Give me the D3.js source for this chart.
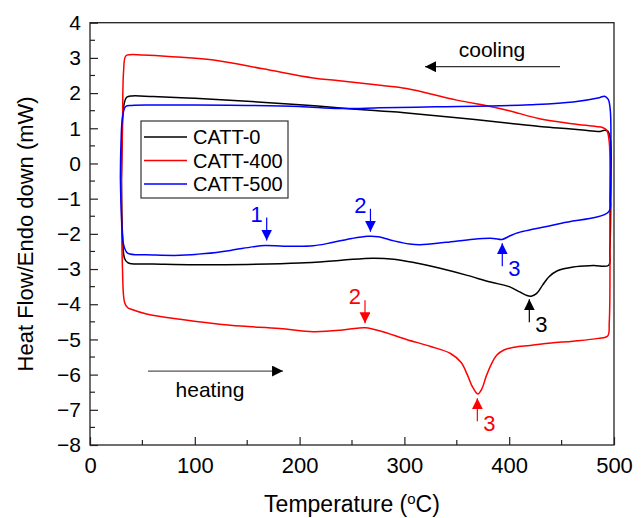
<!DOCTYPE html>
<html>
<head>
<meta charset="utf-8">
<script src="https://cdn.jsdelivr.net/npm/d3@7"></script>
<style>
  body { margin: 0; background: #fff; }
  text { font-family: "Liberation Sans", Arial, sans-serif; }
</style>
</head>
<body>
<div id="container"></div>
<script>
/* DATA: DSC loops, heating (bottom) then cooling (top), temperature in oC, heat flow in mW */

const names = ["CATT-0", "CATT-400", "CATT-500"];
const colors = ["#000000", "#ff0000", "#0000ff"];

// CATT-0
const heatT0 = [30, 31, 33, 36, 40, 60, 100, 150, 200, 240, 270, 290, 310, 334, 360, 382, 400, 410, 416, 421, 426, 432, 438, 446, 461, 480, 495];
const heatY0 = [-0.5, -2.0, -2.7, -2.82, -2.85, -2.86, -2.88, -2.87, -2.83, -2.75, -2.69, -2.72, -2.82, -2.98, -3.18, -3.37, -3.5, -3.65, -3.74, -3.77, -3.7, -3.45, -3.22, -3.05, -2.94, -2.9, -2.89];
const coolT0 = [496, 497, 496.5, 494, 490, 487, 470, 450, 429, 400, 350, 300, 277, 250, 200, 150, 100, 60, 40, 35, 32, 30.5, 30];
const coolY0 = [-2.5, -0.5, 0.7, 0.92, 0.94, 0.91, 0.95, 1.0, 1.05, 1.14, 1.3, 1.44, 1.49, 1.55, 1.67, 1.77, 1.85, 1.9, 1.92, 1.88, 1.6, 0.5, -0.5];

// CATT-400
const heatT1 = [30, 31, 33, 36, 40, 54, 86, 134, 181, 213, 239, 255, 263, 277, 302, 325, 344, 354, 360, 365, 370, 374, 378, 383, 388, 395, 405, 420, 440, 461, 485, 494];
const heatY1 = [-0.5, -3.0, -3.95, -4.1, -4.15, -4.28, -4.43, -4.6, -4.69, -4.78, -4.74, -4.68, -4.67, -4.76, -5.0, -5.2, -5.4, -5.65, -6.0, -6.35, -6.55, -6.4, -6.05, -5.7, -5.45, -5.3, -5.22, -5.17, -5.1, -5.05, -4.97, -4.9];
const coolT1 = [495.5, 496, 495.5, 493, 489, 483, 460, 429, 400, 382, 350, 302, 277, 238, 213, 165, 118, 75, 50, 38, 34, 32, 31, 30];
const coolY1 = [-4.5, -1.0, 0.6, 0.95, 1.02, 1.05, 1.13, 1.27, 1.5, 1.62, 1.8, 2.13, 2.22, 2.35, 2.43, 2.69, 2.94, 3.04, 3.08, 3.09, 3.05, 2.6, 1.0, -0.5];

// CATT-500
const heatT2 = [29, 30, 32, 35, 38, 60, 86, 110, 134, 155, 167, 185, 213, 232, 250, 265, 275, 290, 305, 315, 340, 366, 385, 393, 400, 407, 450, 495];
const heatY2 = [-0.4, -1.5, -2.3, -2.52, -2.57, -2.6, -2.61, -2.56, -2.47, -2.37, -2.33, -2.35, -2.34, -2.24, -2.13, -2.07, -2.08, -2.2, -2.29, -2.31, -2.24, -2.15, -2.13, -2.16, -2.07, -1.98, -1.7, -1.37];
const coolT2 = [496.5, 497, 496.5, 494.5, 491, 486, 461, 420, 382, 330, 277, 238, 200, 150, 100, 60, 40, 34, 31, 29.5, 29];
const coolY2 = [-1.0, 0.3, 1.5, 1.82, 1.91, 1.87, 1.75, 1.67, 1.63, 1.61, 1.58, 1.56, 1.62, 1.65, 1.66, 1.66, 1.65, 1.62, 1.3, 0.5, -0.4];

// peak markers: temperature, heat flow at arrow tip, direction, label, colour index
const markT = [168.6, 267.6, 262.4, 393.4, 419.2, 369.6];
const markY = [-2.19, -1.94, -4.54, -2.27, -3.86, -6.67];
const markDir = ["down", "down", "down", "up", "up", "up"];
const markLabel = ["1", "2", "2", "3", "3", "3"];
const markColor = [2, 2, 1, 2, 0, 1];

// axes
const xTicks = [0, 100, 200, 300, 400, 500];
const yTicks = [-8, -7, -6, -5, -4, -3, -2, -1, 0, 1, 2, 3, 4];

/* LAYOUT */
const width = 644, height = 518;
const margin = { top: 22.7, right: 30, bottom: 73, left: 90 };

const svg = d3.select("#container").append("svg")
  .attr("width", width)
  .attr("height", height);

const xScale = d3.scaleLinear().domain([0, 500]).range([margin.left, width - margin.right]);
const yScale = d3.scaleLinear().domain([-8, 4]).range([height - margin.bottom, margin.top]);

const defs = svg.append("defs");
["#000000", "#ff0000", "#0000ff"].forEach((c, i) => {
  defs.append("marker")
    .attr("id", "head" + i)
    .attr("viewBox", "0 0 10 10")
    .attr("refX", 10).attr("refY", 5)
    .attr("markerUnits", "userSpaceOnUse")
    .attr("markerWidth", 11).attr("markerHeight", 11)
    .attr("orient", "auto")
    .append("path")
    .attr("d", "M0,0 L10,5 L0,10 Z")
    .attr("fill", c);
});

/* AXES (ticks inside) */
const x0 = margin.left, x1 = width - margin.right;
const y0 = height - margin.bottom, y1 = margin.top;

const xAxis = d3.axisBottom(xScale).tickValues(xTicks).tickSizeInner(-8).tickSizeOuter(0).tickPadding(12);
const gx = svg.append("g").attr("transform", `translate(0,${y0})`).call(xAxis);
gx.selectAll("text").style("font-size", "22px").attr("fill", "#000");

const yAxis = d3.axisLeft(yScale).tickValues(yTicks).tickSizeInner(-8).tickSizeOuter(0).tickPadding(9);
const gy = svg.append("g").attr("transform", `translate(${x0},0)`).call(yAxis);
gy.selectAll("text").style("font-size", "21px").attr("fill", "#000");

[gx, gy].forEach(g => {
  g.select(".domain").remove();
  g.selectAll("line").attr("stroke", "#222").attr("stroke-width", 1.2);
});

// minor ticks
svg.append("g").selectAll("line")
  .data(d3.range(50, 500, 100))
  .join("line")
  .attr("x1", d => xScale(d)).attr("x2", d => xScale(d))
  .attr("y1", y0).attr("y2", y0 - 5)
  .attr("stroke", "#222").attr("stroke-width", 1.2);
svg.append("g").selectAll("line")
  .data(d3.range(-7.5, 4, 1))
  .join("line")
  .attr("x1", x0).attr("x2", x0 + 5)
  .attr("y1", d => yScale(d)).attr("y2", d => yScale(d))
  .attr("stroke", "#222").attr("stroke-width", 1.2);

// frame
svg.append("rect")
  .attr("x", x0).attr("y", y1)
  .attr("width", x1 - x0).attr("height", y0 - y1)
  .attr("fill", "none").attr("stroke", "#222").attr("stroke-width", 1.3);

// axis titles
const xt = svg.append("text")
  .attr("x", (x0 + x1) / 2).attr("y", 512)
  .attr("text-anchor", "middle")
  .style("font-size", "23px");
xt.append("tspan").text("Temperature (");
xt.append("tspan").text("o").attr("dy", -8).style("font-size", "15px");
xt.append("tspan").text("C)").attr("dy", 8);

svg.append("text")
  .attr("transform", `translate(33,${(y0 + y1) / 2}) rotate(-90)`)
  .attr("text-anchor", "middle")
  .style("font-size", "22px")
  .text("Heat Flow/Endo down (mW)");

/* CURVES */
const series = [
  { heatT: heatT0, heatY: heatY0, coolT: coolT0, coolY: coolY0 },
  { heatT: heatT1, heatY: heatY1, coolT: coolT1, coolY: coolY1 },
  { heatT: heatT2, heatY: heatY2, coolT: coolT2, coolY: coolY2 }
].map(s => {
  const pts = s.heatT.map((t, i) => [t, s.heatY[i]]);
  s.coolT.forEach((t, i) => pts.push([t, s.coolY[i]]));
  return pts;
});

const line = d3.line()
  .x(d => xScale(d[0]))
  .y(d => yScale(d[1]))
  .curve(d3.curveCatmullRom.alpha(0.5));

svg.append("g").selectAll("path")
  .data(series)
  .join("path")
  .attr("d", line)
  .attr("fill", "none")
  .attr("stroke", (d, i) => colors[i])
  .attr("stroke-width", 1.5)
  .attr("stroke-linejoin", "round");

/* PEAK ARROWS */
const marks = markT.map((t, i) => ({ t, y: markY[i], dir: markDir[i], label: markLabel[i], c: markColor[i] }));
const gm = svg.append("g");
marks.forEach(m => {
  const px = xScale(m.t), py = yScale(m.y);
  const s = m.dir === "down" ? -1 : 1;
  gm.append("line")
    .attr("x1", px).attr("x2", px)
    .attr("y1", py + s * 23).attr("y2", py)
    .attr("stroke", colors[m.c]).attr("stroke-width", 1.2)
    .attr("marker-end", `url(#head${m.c})`);
  gm.append("text")
    .attr("x", m.dir === "down" ? px - 10 : px + 12)
    .attr("y", m.dir === "down" ? py - 19 : py + 33)
    .attr("text-anchor", "middle")
    .attr("fill", colors[m.c])
    .style("font-size", "22px")
    .text(m.label);
});

/* HEATING / COOLING ARROWS */
svg.append("line")
  .attr("x1", xScale(448.5)).attr("x2", xScale(319.7))
  .attr("y1", yScale(2.75)).attr("y2", yScale(2.75))
  .attr("stroke", "#333").attr("stroke-width", 1.2)
  .attr("marker-end", "url(#head0)");
svg.append("text")
  .attr("x", xScale(383.6)).attr("y", yScale(3.03))
  .attr("text-anchor", "middle")
  .style("font-size", "21px")
  .text("cooling");

svg.append("line")
  .attr("x1", xScale(55.3)).attr("x2", xScale(184.2))
  .attr("y1", yScale(-5.9)).attr("y2", yScale(-5.9))
  .attr("stroke", "#555").attr("stroke-width", 1.2)
  .attr("marker-end", "url(#head0)");
svg.append("text")
  .attr("x", xScale(114.5)).attr("y", yScale(-6.63))
  .attr("text-anchor", "middle")
  .style("font-size", "21px")
  .text("heating");

/* LEGEND */
const lg = svg.append("g").attr("transform", "translate(141,121)");
lg.append("rect")
  .attr("width", 147).attr("height", 77)
  .attr("fill", "#fff").attr("stroke", "#333").attr("stroke-width", 1.2);
names.forEach((n, i) => {
  const yy = 16 + i * 23.5;
  lg.append("line")
    .attr("x1", 3).attr("x2", 46)
    .attr("y1", yy).attr("y2", yy)
    .attr("stroke", colors[i]).attr("stroke-width", 1.5);
  lg.append("text")
    .attr("x", 52).attr("y", yy + 7)
    .style("font-size", "20px")
    .text(n);
});
</script>
</body>
</html>
